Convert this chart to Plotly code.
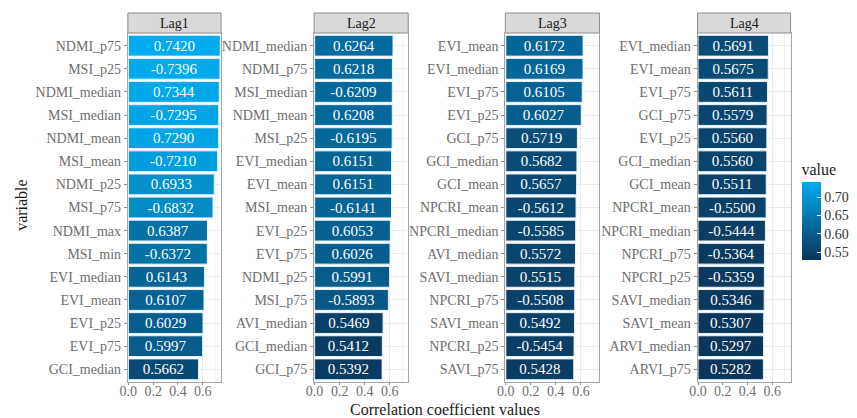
import plotly.graph_objects as go

# Correlation of each index statistic with the target, per time lag
lag1_vars = ["NDMI_p75", "MSI_p25", "NDMI_median", "MSI_median", "NDMI_mean",
             "MSI_mean", "NDMI_p25", "MSI_p75", "NDMI_max", "MSI_min",
             "EVI_median", "EVI_mean", "EVI_p25", "EVI_p75", "GCI_median"]
lag1_vals = [0.7420, -0.7396, 0.7344, -0.7295, 0.7290,
             -0.7210, 0.6933, -0.6832, 0.6387, -0.6372,
             0.6143, 0.6107, 0.6029, 0.5997, 0.5662]

lag2_vars = ["NDMI_median", "NDMI_p75", "MSI_median", "NDMI_mean", "MSI_p25",
             "EVI_median", "EVI_mean", "MSI_mean", "EVI_p25", "EVI_p75",
             "NDMI_p25", "MSI_p75", "AVI_median", "GCI_median", "GCI_p75"]
lag2_vals = [0.6264, 0.6218, -0.6209, 0.6208, -0.6195,
             0.6151, 0.6151, -0.6141, 0.6053, 0.6026,
             0.5991, -0.5893, 0.5469, 0.5412, 0.5392]

lag3_vars = ["EVI_mean", "EVI_median", "EVI_p75", "EVI_p25", "GCI_p75",
             "GCI_median", "GCI_mean", "NPCRI_mean", "NPCRI_median", "AVI_median",
             "SAVI_median", "NPCRI_p75", "SAVI_mean", "NPCRI_p25", "SAVI_p75"]
lag3_vals = [0.6172, 0.6169, 0.6105, 0.6027, 0.5719,
             0.5682, 0.5657, -0.5612, -0.5585, 0.5572,
             0.5515, -0.5508, 0.5492, -0.5454, 0.5428]

lag4_vars = ["EVI_median", "EVI_mean", "EVI_p75", "GCI_p75", "EVI_p25",
             "GCI_median", "GCI_mean", "NPCRI_mean", "NPCRI_median", "NPCRI_p75",
             "NPCRI_p25", "SAVI_median", "SAVI_mean", "ARVI_median", "ARVI_p75"]
lag4_vals = [0.5691, 0.5675, 0.5611, 0.5579, 0.5560,
             0.5560, 0.5511, -0.5500, -0.5444, -0.5364,
             -0.5359, 0.5346, 0.5307, 0.5297, 0.5282]

panel_names = ["Lag1", "Lag2", "Lag3", "Lag4"]
x_ticks = [0.0, 0.2, 0.4, 0.6]
legend_ticks = [0.55, 0.60, 0.65, 0.70]

panels = [(lag1_vars, lag1_vals), (lag2_vars, lag2_vals),
          (lag3_vars, lag3_vals), (lag4_vars, lag4_vals)]

W, H = 857, 418
SERIF = "Liberation Serif"

# panel pixel boxes (left, right), shared top/bottom
panel_px = [(121, 215), (309, 404), (502, 597), (696, 790)]
top_px, bot_px = 33, 382
strip_top_px = 13

def px_x(p):
    return p / W

def px_y(p):
    return 1 - p / H

all_abs = [abs(v) for _, vals in panels for v in vals]
cmin, cmax = min(all_abs), max(all_abs)

fig = go.Figure()
layout_axes = {}
shapes = []
annotations = []

for i, ((names, vals), title) in enumerate(zip(panels, panel_names)):
    n = i + 1
    xa = "x" if n == 1 else f"x{n}"
    ya = "y" if n == 1 else f"y{n}"
    mags = [abs(v) for v in vals]
    fig.add_trace(go.Bar(
        x=mags, y=names, orientation="h",
        xaxis=xa, yaxis=ya,
        marker=dict(color=mags, coloraxis="coloraxis",
                    line=dict(color="#E6F3FF", width=1)),
        text=[f"{v:.4f}" for v in vals],
        textposition="inside", insidetextanchor="middle",
        textangle=0, constraintext="none",
        textfont=dict(family=SERIF, size=15, color="white"),
        hoverinfo="skip", showlegend=False,
    ))
    l, r = panel_px[i]
    layout_axes[f"xaxis{'' if n == 1 else n}"] = dict(
        domain=[px_x(l), px_x(r)], anchor=ya,
        range=[-0.004, 0.748],
        tickvals=x_ticks, ticktext=[f"{t:.1f}" for t in x_ticks],
        ticks="outside", ticklen=2, tickcolor="#8C8C8C",
        ticklabelstandoff=-6,
        tickfont=dict(family=SERIF, size=14, color="#6E6E6E"),
        showgrid=True, gridcolor="#EBEBEB", gridwidth=0.8,
        minor=dict(dtick=0.1, tick0=0.1, showgrid=True, gridcolor="#F4F4F4", gridwidth=0.5),
        showline=True, mirror=True, linecolor="#A6A6A6", linewidth=1,
        zeroline=False, fixedrange=True,
    )
    layout_axes[f"yaxis{'' if n == 1 else n}"] = dict(
        domain=[px_y(bot_px), px_y(top_px)], anchor=xa,
        type="category", categoryorder="array", categoryarray=names,
        range=[len(names) - 0.45, -0.55],
        ticks="outside", ticklen=3, tickcolor="#8C8C8C",
        tickfont=dict(family=SERIF, size=14, color="#6E6E6E"),
        showgrid=True, gridcolor="#EBEBEB", gridwidth=0.8,
        showline=True, mirror=True, linecolor="#A6A6A6", linewidth=1,
        zeroline=False, fixedrange=True,
    )
    # facet strip
    shapes.append(dict(
        type="rect", xref="paper", yref="paper",
        x0=px_x(l), x1=px_x(r), y0=px_y(top_px), y1=px_y(strip_top_px),
        fillcolor="#D9D9D9", line=dict(color="#8C8C8C", width=1), layer="above",
    ))
    annotations.append(dict(
        text=title, xref="paper", yref="paper",
        x=px_x((l + r) / 2), y=px_y((top_px + strip_top_px) / 2),
        xanchor="center", yanchor="middle", showarrow=False,
        font=dict(family=SERIF, size=14, color="#1A1A1A"),
    ))

annotations.append(dict(
    text="Correlation coefficient values", xref="paper", yref="paper",
    x=px_x(441), y=px_y(409), xanchor="center", yanchor="middle",
    showarrow=False, font=dict(family=SERIF, size=16, color="#1A1A1A"),
))
annotations.append(dict(
    text="variable", xref="paper", yref="paper",
    x=px_x(14), y=px_y(205), xanchor="center", yanchor="middle",
    textangle=-90, showarrow=False,
    font=dict(family=SERIF, size=16, color="#1A1A1A"),
))

fig.update_layout(
    width=W, height=H,
    margin=dict(l=0, r=0, t=0, b=0),
    paper_bgcolor="white", plot_bgcolor="white",
    bargap=0.1,
    coloraxis=dict(
        cmin=cmin, cmax=cmax,
        colorscale=[[0.0, "#0B355A"], [1.0, "#00ABEE"]],
        colorbar=dict(
            title=dict(text="value", side="top",
                       font=dict(family=SERIF, size=16, color="#1A1A1A")),
            x=px_x(801), xanchor="left",
            y=px_y(160), yanchor="top",
            thickness=19, len=100, lenmode="pixels",
            tickvals=legend_ticks, ticktext=[f"{t:.2f}" for t in legend_ticks],
            ticks="inside", ticklen=4, tickcolor="white",
            tickfont=dict(family=SERIF, size=14, color="#333333"),
            outlinewidth=0, xpad=0, ypad=0,
        ),
    ),
    shapes=shapes,
    annotations=annotations,
    **layout_axes,
)

fig.write_html("out.html")
